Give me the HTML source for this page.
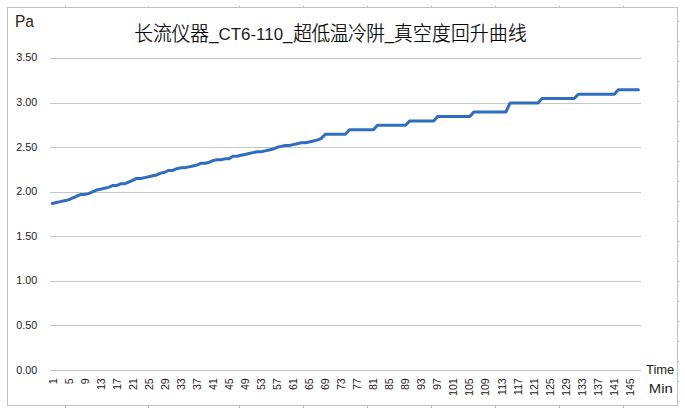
<!DOCTYPE html>
<html lang="zh-CN">
<head>
<meta charset="utf-8">
<title>长流仪器_CT6-110_超低温冷阱_真空度回升曲线</title>
<style>
html,body{margin:0;padding:0;background:#fff;}
body{width:685px;height:412px;overflow:hidden;position:relative;}
svg{position:absolute;left:0;top:0;display:block;}
text{font-family:"Liberation Sans","Noto Sans CJK SC",sans-serif;fill:#222;}
.yl{font-size:10.8px;text-anchor:end;}
.xl{font-size:11px;text-anchor:end;}
.ttl{font-size:18.7px;font-weight:300;fill:#000;stroke:#000;stroke-width:0.22px;}
.lat{font-size:16.9px;fill:#1a1a1a;}
</style>
</head>
<body>
<svg width="685" height="412" viewBox="0 0 685 412">
<rect x="0" y="0" width="685" height="412" fill="#fff"/>
<g fill="#a9afd9" shape-rendering="crispEdges"><rect x="65" y="6" width="1" height="1"/><rect x="65" y="406" width="1" height="2"/><rect x="148" y="6" width="1" height="1"/><rect x="148" y="406" width="1" height="2"/><rect x="239" y="6" width="1" height="1"/><rect x="239" y="406" width="1" height="2"/><rect x="303" y="6" width="1" height="1"/><rect x="303" y="406" width="1" height="2"/><rect x="367" y="6" width="1" height="1"/><rect x="367" y="406" width="1" height="2"/><rect x="431" y="6" width="1" height="1"/><rect x="431" y="406" width="1" height="2"/><rect x="495" y="6" width="1" height="1"/><rect x="495" y="406" width="1" height="2"/><rect x="559" y="6" width="1" height="1"/><rect x="559" y="406" width="1" height="2"/><rect x="623" y="6" width="1" height="1"/><rect x="623" y="406" width="1" height="2"/><rect x="678" y="21" width="1" height="1"/><rect x="678" y="41" width="1" height="1"/><rect x="678" y="61" width="1" height="1"/><rect x="678" y="81" width="1" height="1"/><rect x="678" y="101" width="1" height="1"/><rect x="678" y="121" width="1" height="1"/><rect x="678" y="141" width="1" height="1"/><rect x="678" y="161" width="1" height="1"/><rect x="678" y="181" width="1" height="1"/><rect x="678" y="201" width="1" height="1"/><rect x="678" y="221" width="1" height="1"/><rect x="678" y="241" width="1" height="1"/><rect x="678" y="261" width="1" height="1"/><rect x="678" y="281" width="1" height="1"/><rect x="678" y="301" width="1" height="1"/><rect x="678" y="321" width="1" height="1"/><rect x="678" y="341" width="1" height="1"/><rect x="678" y="361" width="1" height="1"/><rect x="678" y="381" width="1" height="1"/><rect x="678" y="401" width="1" height="1"/></g>
<rect x="7.5" y="7.5" width="670" height="398" fill="#fff" stroke="#c2c2c2" stroke-width="1" shape-rendering="crispEdges"/>
<g fill="#c6c6c6" shape-rendering="crispEdges"><rect x="50" y="58" width="591" height="1"/><rect x="50" y="103" width="591" height="1"/><rect x="50" y="147" width="591" height="1"/><rect x="50" y="192" width="591" height="1"/><rect x="50" y="236" width="591" height="1"/><rect x="50" y="281" width="591" height="1"/><rect x="50" y="325" width="591" height="1"/><rect x="50" y="370" width="591" height="1"/></g>
<text class="yl" x="37.2" y="60.7">3.50</text>
<text class="yl" x="37.2" y="105.7">3.00</text>
<text class="yl" x="37.2" y="150.7">2.50</text>
<text class="yl" x="37.2" y="194.7">2.00</text>
<text class="yl" x="37.2" y="239.7">1.50</text>
<text class="yl" x="37.2" y="283.7">1.00</text>
<text class="yl" x="37.2" y="328.7">0.50</text>
<text class="yl" x="37.2" y="373.7">0.00</text>
<text class="xl" transform="translate(56.51,378.2) rotate(-90) scale(0.97,0.94)">1</text>
<text class="xl" transform="translate(72.53,378.2) rotate(-90) scale(0.97,0.94)">5</text>
<text class="xl" transform="translate(88.55,378.2) rotate(-90) scale(0.97,0.94)">9</text>
<text class="xl" transform="translate(104.57,378.2) rotate(-90) scale(0.97,0.94)">13</text>
<text class="xl" transform="translate(120.59,378.2) rotate(-90) scale(0.97,0.94)">17</text>
<text class="xl" transform="translate(136.61,378.2) rotate(-90) scale(0.97,0.94)">21</text>
<text class="xl" transform="translate(152.63,378.2) rotate(-90) scale(0.97,0.94)">25</text>
<text class="xl" transform="translate(168.65,378.2) rotate(-90) scale(0.97,0.94)">29</text>
<text class="xl" transform="translate(184.67,378.2) rotate(-90) scale(0.97,0.94)">33</text>
<text class="xl" transform="translate(200.69,378.2) rotate(-90) scale(0.97,0.94)">37</text>
<text class="xl" transform="translate(216.71,378.2) rotate(-90) scale(0.97,0.94)">41</text>
<text class="xl" transform="translate(232.73,378.2) rotate(-90) scale(0.97,0.94)">45</text>
<text class="xl" transform="translate(248.75,378.2) rotate(-90) scale(0.97,0.94)">49</text>
<text class="xl" transform="translate(264.77,378.2) rotate(-90) scale(0.97,0.94)">53</text>
<text class="xl" transform="translate(280.79,378.2) rotate(-90) scale(0.97,0.94)">57</text>
<text class="xl" transform="translate(296.81,378.2) rotate(-90) scale(0.97,0.94)">61</text>
<text class="xl" transform="translate(312.84,378.2) rotate(-90) scale(0.97,0.94)">65</text>
<text class="xl" transform="translate(328.89,378.2) rotate(-90) scale(0.97,0.94)">69</text>
<text class="xl" transform="translate(344.95,378.2) rotate(-90) scale(0.97,0.94)">73</text>
<text class="xl" transform="translate(361.01,378.2) rotate(-90) scale(0.97,0.94)">77</text>
<text class="xl" transform="translate(377.07,378.2) rotate(-90) scale(0.97,0.94)">81</text>
<text class="xl" transform="translate(393.13,378.2) rotate(-90) scale(0.97,0.94)">85</text>
<text class="xl" transform="translate(409.18,378.2) rotate(-90) scale(0.97,0.94)">89</text>
<text class="xl" transform="translate(425.24,378.2) rotate(-90) scale(0.97,0.94)">93</text>
<text class="xl" transform="translate(441.30,378.2) rotate(-90) scale(0.97,0.94)">97</text>
<text class="xl" transform="translate(457.36,378.2) rotate(-90) scale(0.97,0.94)">101</text>
<text class="xl" transform="translate(473.42,378.2) rotate(-90) scale(0.97,0.94)">105</text>
<text class="xl" transform="translate(489.47,378.2) rotate(-90) scale(0.97,0.94)">109</text>
<text class="xl" transform="translate(505.53,378.2) rotate(-90) scale(0.97,0.94)">113</text>
<text class="xl" transform="translate(521.59,378.2) rotate(-90) scale(0.97,0.94)">117</text>
<text class="xl" transform="translate(537.65,378.2) rotate(-90) scale(0.97,0.94)">121</text>
<text class="xl" transform="translate(553.71,378.2) rotate(-90) scale(0.97,0.94)">125</text>
<text class="xl" transform="translate(569.76,378.2) rotate(-90) scale(0.97,0.94)">129</text>
<text class="xl" transform="translate(585.82,378.2) rotate(-90) scale(0.97,0.94)">133</text>
<text class="xl" transform="translate(601.88,378.2) rotate(-90) scale(0.97,0.94)">137</text>
<text class="xl" transform="translate(617.94,378.2) rotate(-90) scale(0.97,0.94)">141</text>
<text class="xl" transform="translate(634.00,378.2) rotate(-90) scale(0.97,0.94)">145</text>
<polyline points="52.31,203.45 56.32,202.55 60.34,201.66 64.35,200.77 68.37,199.88 72.38,198.10 76.39,196.31 80.41,194.53 84.42,194.53 88.44,193.64 92.45,191.86 96.47,190.07 100.48,189.18 104.50,188.29 108.51,187.40 112.52,185.62 116.54,185.62 120.55,183.83 124.57,183.83 128.58,182.05 132.60,180.27 136.61,178.49 140.63,178.49 144.64,177.59 148.66,176.70 152.67,175.81 156.68,174.92 160.70,173.14 164.71,172.25 168.73,170.46 172.74,170.46 176.76,168.68 180.77,167.79 184.79,167.79 188.80,166.90 192.81,166.01 196.83,165.11 200.84,163.33 204.86,163.33 208.87,162.44 212.89,160.66 216.90,159.77 220.92,159.77 224.93,158.87 228.95,158.87 232.96,156.20 236.97,156.20 240.99,155.31 245.00,154.42 249.02,153.53 253.03,152.63 257.05,151.74 261.06,151.74 265.08,150.85 269.09,149.96 273.10,149.07 277.12,147.29 281.13,146.39 285.15,145.50 289.16,145.50 293.18,144.61 297.19,143.72 301.21,142.83 305.22,142.83 309.24,141.94 313.25,141.05 317.26,140.15 321.28,138.37 325.29,134.27 329.31,134.27 333.32,134.27 337.34,134.27 341.35,134.27 345.37,134.27 349.38,129.81 353.39,129.81 357.41,129.81 361.42,129.81 365.44,129.81 369.45,129.81 373.47,129.81 377.48,125.36 381.50,125.36 385.51,125.36 389.53,125.36 393.54,125.36 397.55,125.36 401.57,125.36 405.58,125.36 409.60,120.90 413.61,120.90 417.63,120.90 421.64,120.90 425.66,120.90 429.67,120.90 433.68,120.90 437.70,116.44 441.71,116.44 445.73,116.44 449.74,116.44 453.76,116.44 457.77,116.44 461.79,116.44 465.80,116.44 469.82,116.44 473.83,111.99 477.84,111.99 481.86,111.99 485.87,111.99 489.89,111.99 493.90,111.99 497.92,111.99 501.93,111.99 505.95,111.99 509.96,103.07 513.97,103.07 517.99,103.07 522.00,103.07 526.02,103.07 530.03,103.07 534.05,103.07 538.06,103.07 542.08,98.61 546.09,98.61 550.11,98.61 554.12,98.61 558.13,98.61 562.15,98.61 566.16,98.61 570.18,98.61 574.19,98.61 578.21,94.16 582.22,94.16 586.24,94.16 590.25,94.16 594.26,94.16 598.28,94.16 602.29,94.16 606.31,94.16 610.32,94.16 614.34,94.16 618.35,89.70 622.37,89.70 626.38,89.70 630.40,89.70 634.41,89.70 638.42,89.70" fill="none" stroke="#2f6ebe" stroke-width="3" stroke-linecap="round" stroke-linejoin="round"/>
<text class="ttl" x="134.2" y="41.0" letter-spacing="0.0" transform="translate(0,41.0) scale(1,1.1) translate(0,-41.0)">长流仪器</text>
<text class="lat" x="209.2" y="40.4">_CT6-110_</text>
<text class="ttl" x="293.2" y="41.0" letter-spacing="-0.4" transform="translate(0,41.0) scale(1,1.1) translate(0,-41.0)">超低温冷阱</text>
<text class="lat" x="384.7" y="40.4">_</text>
<text class="ttl" x="394.0" y="41.0" letter-spacing="0.33" transform="translate(0,41.0) scale(1,1.1) translate(0,-41.0)">真空度回升曲线</text>
<text x="15" y="27" font-size="17.4" transform="translate(15,0) scale(0.89,1) translate(-15,0)">Pa</text>
<text x="674.3" y="373.6" font-size="13.5" text-anchor="end" transform="translate(674.3,0) scale(0.96,1) translate(-674.3,0)">Time</text>
<text x="672.8" y="392.7" font-size="13.5" text-anchor="end" transform="translate(672.8,0) scale(1.1,1) translate(-672.8,0)">Min</text>
</svg>
</body>
</html>
